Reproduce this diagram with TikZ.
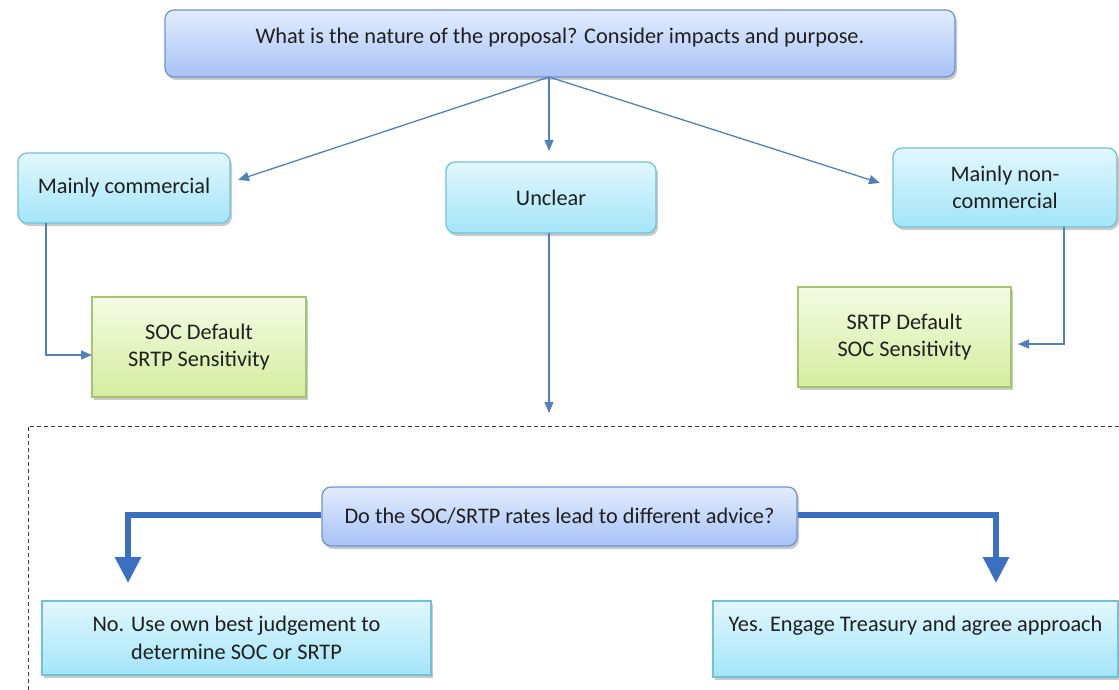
\documentclass[tikz,border=0pt]{standalone}
\usepackage{fontspec}
\setmainfont{Carlito}
\usetikzlibrary{arrows.meta,shadows,calc}
\definecolor{txt}{HTML}{1F1F1F}
\definecolor{bluetop}{HTML}{E2ECFE}
\definecolor{bluebot}{HTML}{A7C2F6}
\definecolor{blueedge}{HTML}{6E93D2}
\definecolor{cyantop}{HTML}{E2F7FD}
\definecolor{cyanbot}{HTML}{A3E5F9}
\definecolor{cyanedge}{HTML}{6FC1DA}
\definecolor{greentop}{HTML}{F5FBE4}
\definecolor{greenbot}{HTML}{D4ED9E}
\definecolor{greenedge}{HTML}{A5C46C}
\definecolor{arrowc}{HTML}{4F81BD}
\definecolor{thickc}{HTML}{3A70BF}
\tikzset{
  basebox/.style={draw, line width=1.2pt, text=txt, align=center,
    font=\fontsize{22.3}{27.5}\selectfont,
    drop shadow={shadow xshift=2pt, shadow yshift=-3pt, opacity=0.35, fill=black!60}},
  bluebox/.style={basebox, rounded corners=9pt, draw=blueedge, top color=bluetop, bottom color=bluebot},
  cyanbox/.style={basebox, rounded corners=9pt, draw=cyanedge, top color=cyantop, bottom color=cyanbot},
  cyanrect/.style={basebox, draw=cyanedge, top color=cyantop, bottom color=cyanbot},
  greenbox/.style={basebox, draw=greenedge, top color=greentop, bottom color=greenbot},
  thin arrow/.style={draw=arrowc, line width=1.3pt, -{Triangle[width=9pt,length=11pt]}},
  thick arrow/.style={draw=thickc, line width=6pt, -{Triangle[width=25pt,length=26pt]}},
}
\begin{document}
\begin{tikzpicture}[x=1pt,y=-1pt]
\useasboundingbox (0,0) rectangle (1119,690);
% dashed region
\draw[black!75, line width=1pt, dash pattern=on 4pt off 3pt] (28,690) -- (28,426) -- (1119,426);

% nodes
\node[bluebox, minimum width=790pt, minimum height=67pt, text height=15pt, text depth=14pt] (top) at (560,43.5)
  {What is the nature of the proposal? Consider impacts and purpose.};
\node[cyanbox, minimum width=212pt, minimum height=70pt] (mc) at (124,188) {Mainly commercial};
\node[cyanbox, minimum width=210pt, minimum height=71pt] (un) at (551,197.5) {Unclear};
\node[cyanbox, minimum width=224pt, minimum height=79pt] (nc) at (1005,187.5) {Mainly non-\\commercial};
\node[greenbox, minimum width=214pt, minimum height=100pt] (soc) at (199,347) {SOC Default\\SRTP Sensitivity};
\node[greenbox, minimum width=213pt, minimum height=100pt] (srtp) at (904.5,337) {SRTP Default\\SOC Sensitivity};
\node[bluebox, minimum width=475pt, minimum height=59pt] (q) at (559.5,516.5) {Do the SOC/SRTP rates lead to different advice?};
\node[cyanrect, minimum width=389pt, minimum height=74pt] (no) at (236.5,638) {No. Use own best judgement to\\determine SOC or SRTP};
\node[cyanrect, minimum width=405pt, minimum height=76pt, text height=15pt, text depth=31pt] (yes) at (915.5,639)
  {Yes. Engage Treasury and agree approach};

% connector end points
\coordinate (o) at (549,77);
\coordinate (mcin) at (238,180);
\coordinate (unin) at (549,151);
\coordinate (ncin) at (880,183);
\coordinate (mcout) at (46,223);
\coordinate (socin) at (92,355);
\coordinate (ncout) at (1064,227);
\coordinate (srtpin) at (1018,344);
\coordinate (unout) at (549,233);
\coordinate (unend) at (549,413);
\coordinate (qend1) at (128,583);
\coordinate (qend2) at (996,583);

% thin arrows
\draw[thin arrow] (o) -- (mcin);
\draw[thin arrow] (o) -- (unin);
\draw[thin arrow] (o) -- (ncin);
\draw[thin arrow] (mcout) |- (socin);
\draw[thin arrow] (ncout) |- (srtpin);
\draw[thin arrow] (unout) -- (unend);

% thick arrows
\draw[thick arrow] (q.west |- 0,515) -| (qend1);
\draw[thick arrow] (q.east |- 0,515) -| (qend2);
\end{tikzpicture}
\end{document}
